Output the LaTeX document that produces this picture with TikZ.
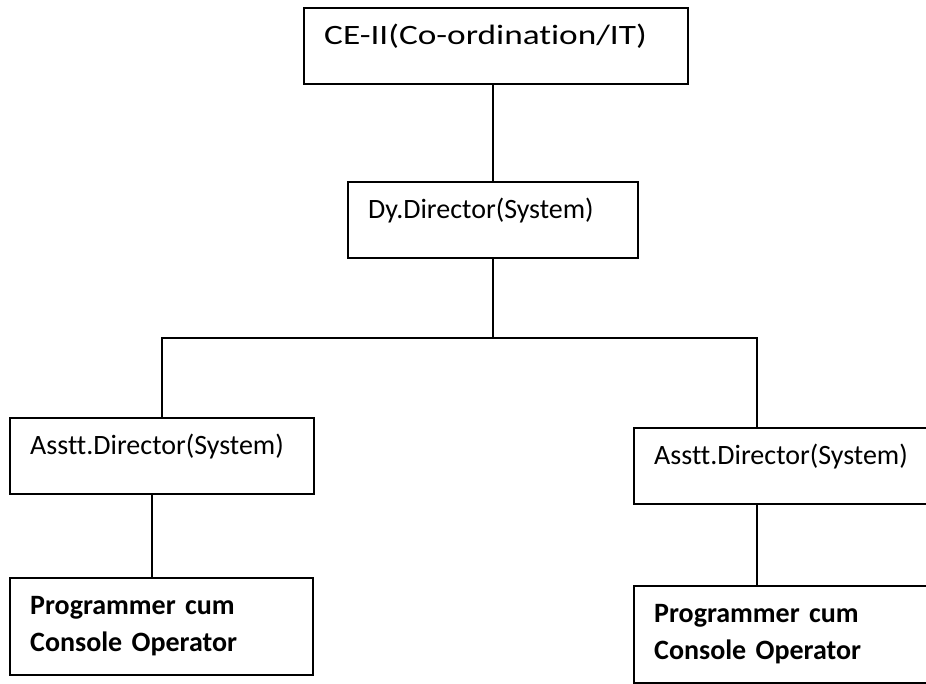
\documentclass[tikz,border=0pt]{standalone}
\usepackage{fontspec}
\setmainfont{Carlito}[Ligatures=NoCommon]
\newfontfamily\widefont{Carlito}[FakeStretch=1.26, Ligatures=NoCommon]
\usepackage{tikz}
\usetikzlibrary{positioning}
\newcommand{\role}[1]{\textbf{#1}}

\begin{document}
\begin{tikzpicture}[
				x=0.75pt, y=-0.75pt,
				line width=1.8pt,
				every node/.style={font=\fontsize{21}{27.75}\selectfont},
				post/.style={draw, rectangle, anchor=north west, inner xsep=15pt, inner ysep=0pt,
					align=left, text height=27pt, text depth=30pt},
				twoline/.style={post, text depth=45.75pt}]

			\useasboundingbox (0,0) rectangle (926,684);
			\clip (0,0) rectangle (926,684);

			\node[post, text width=258pt] (ce) at (303,7) {\widefont CE-II(Co-ordination/IT)};
			\node[post, text width=187.5pt] (dy) at (347,181) {Dy.Director(System)};
			\node[post, text width=198pt] (asstt_left) at (9,417) {Asstt.Director(System)};
			\node[twoline, text width=197pt] (prog_left) at (9,577) {\role{Programmer cum}\\\role{Console Operator}};
			\node[post, text width=205pt] (asstt_right) at (633,427) {Asstt.Director(System)};
			\node[twoline, text width=205pt] (prog_right) at (633,585) {\role{Programmer cum}\\\role{Console Operator}};

			\coordinate (bus) at (487,338);
			\coordinate (right_col) at (757,338);

			\draw	(dy.north) -- (dy.north |- ce.south);
			\draw	(dy.south) -- (dy.south |- bus);
			\draw	(asstt_left.north) |- (right_col) -- (right_col |- asstt_right.north);

			\draw	([xshift=-7.5pt]asstt_left.south) -- ([xshift=-7.5pt]asstt_left.south |- prog_left.north);
			\draw	(right_col |- asstt_right.south) -- (right_col |- prog_right.north);

		\end{tikzpicture}
\end{document}
